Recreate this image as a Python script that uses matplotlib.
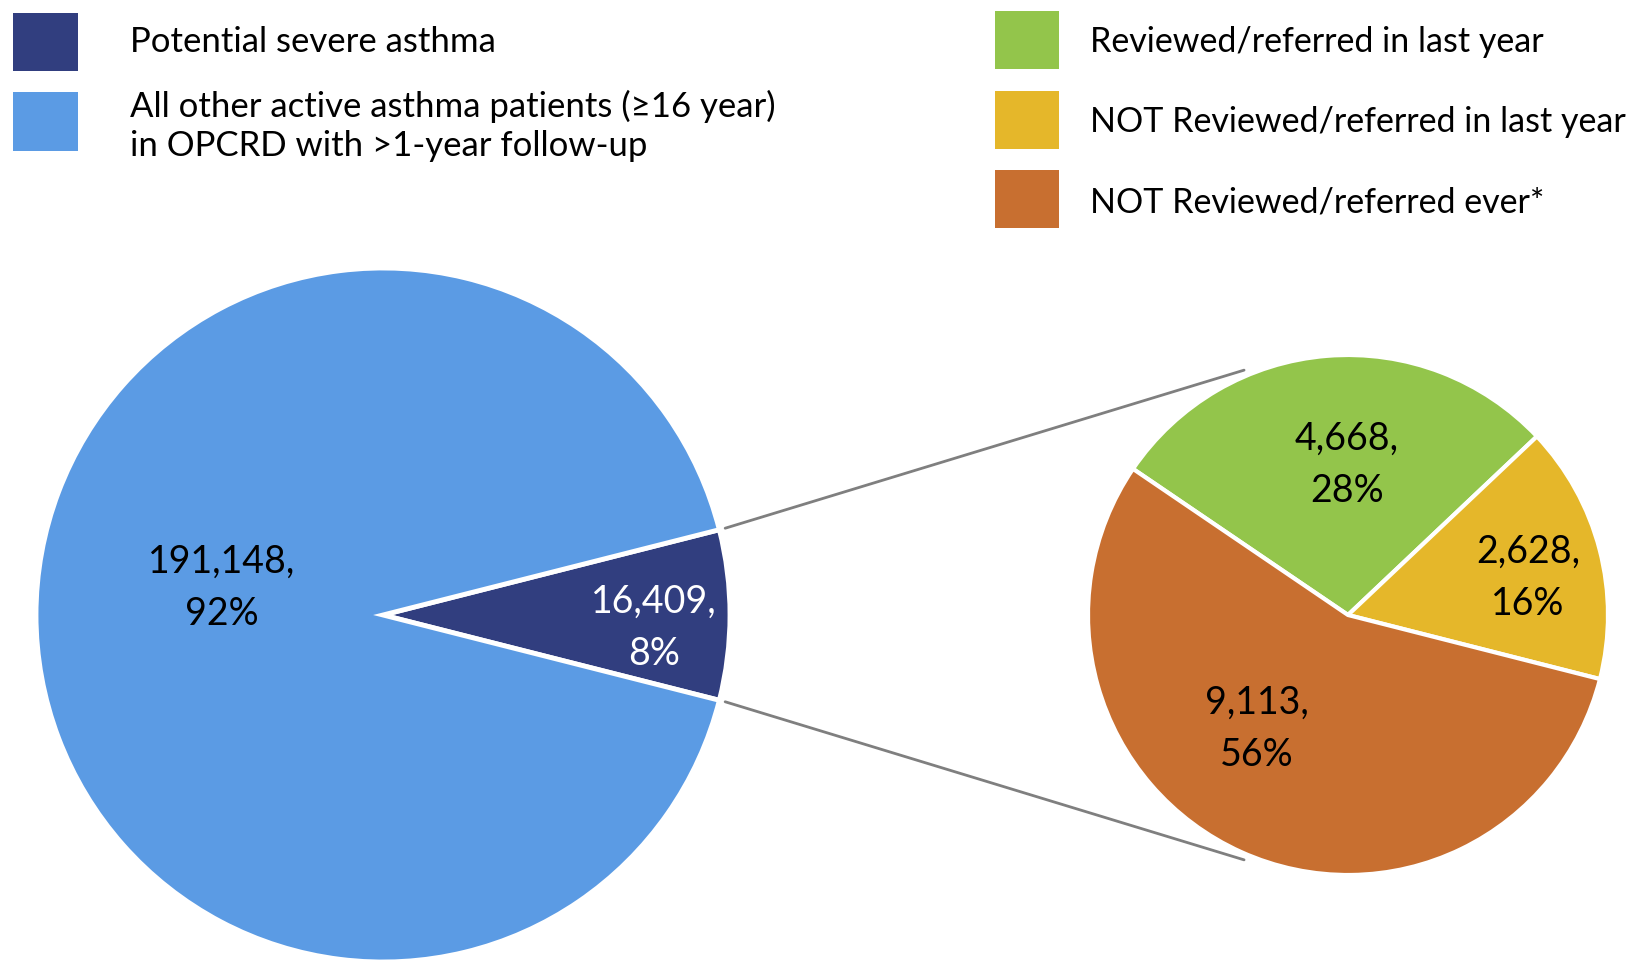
import numpy as np
import matplotlib
matplotlib.use('Agg')
import matplotlib.pyplot as plt
from matplotlib.patches import Rectangle

# data
main_labels = ['Potential severe asthma',
               'All other active asthma patients (\u226516 year)\nin OPCRD with >1-year follow-up']
main_values = [16409, 191148]
main_pcts = ['8%', '92%']
main_colors = ['#313E7F', '#5B9BE4']

sub_labels = ['Reviewed/referred in last year',
              'NOT Reviewed/referred in last year',
              'NOT Reviewed/referred ever*']
sub_values = [4668, 2628, 9113]
sub_pcts = ['28%', '16%', '56%']
sub_colors = ['#93C54B', '#E5B72A', '#C86F30']

W, H = 1633, 961
plt.rcParams['font.family'] = ['Lato', 'DejaVu Sans']

fig = plt.figure(figsize=(W / 100, H / 100), dpi=100, facecolor='white')
ax = fig.add_axes([0, 0, 1, 1])

def iy(y):
    # image (top-down) pixel y -> axes y
    return H - y

# big pie, dark slice centred on 0 degrees
big_c = (383, iy(615))
big_r = 347
dark_angle = 360.0 * main_values[0] / sum(main_values)
ax.pie(main_values, colors=main_colors, center=big_c, radius=big_r,
       startangle=-dark_angle / 2, counterclock=True, frame=True,
       wedgeprops=dict(edgecolor='white', linewidth=3.5))

# small pie
small_c = (1348, iy(615))
small_r = 260
ax.pie(sub_values, colors=sub_colors, center=small_c, radius=small_r,
       startangle=145.8, counterclock=False, frame=True,
       wedgeprops=dict(edgecolor='white', linewidth=3))

# connector lines from dark slice edges to the small pie
for sgn in (1, -1):
    a0 = np.deg2rad(sgn * dark_angle / 2)
    x0 = big_c[0] + (big_r + 6) * np.cos(a0)
    y0 = big_c[1] + (big_r + 6) * np.sin(a0)
    a1 = np.deg2rad(sgn * 113)
    x1 = small_c[0] + (small_r + 6) * np.cos(a1)
    y1 = small_c[1] + (small_r + 6) * np.sin(a1)
    ax.plot([x0, x1], [y0, y1], color='#7F7F7F', linewidth=2, solid_capstyle='round')

# slice labels
lab_fs = 27
lab_ls = 1.55
ax.text(222, iy(588), f'{main_values[1]:,},\n{main_pcts[1]}', ha='center', va='center',
        fontsize=lab_fs, color='black', linespacing=lab_ls)
ax.text(654, iy(628), f'{main_values[0]:,},\n{main_pcts[0]}', ha='center', va='center',
        fontsize=lab_fs, color='white', linespacing=lab_ls)
sub_pos = [(1347, 465), (1528, 578), (1257, 729)]
for (x, y), v, p in zip(sub_pos, sub_values, sub_pcts):
    ax.text(x, iy(y), f'{v:,},\n{p}', ha='center', va='center',
            fontsize=lab_fs, color='black', linespacing=lab_ls)

# legends
left_boxes = [(13, 13, 65, 58), (13, 92, 65, 59)]
for (x, y, w, h), c in zip(left_boxes, main_colors):
    ax.add_patch(Rectangle((x, iy(y + h)), w, h, facecolor=c, edgecolor='none'))
ax.text(130, iy(42), main_labels[0], ha='left', va='center', fontsize=25)
ax.text(130, iy(126), main_labels[1], ha='left', va='center', fontsize=25,
        linespacing=1.3)

right_boxes = [(995, 11, 64, 58), (995, 91, 64, 58), (995, 170, 64, 58)]
right_text_y = [42, 122, 202]
for (x, y, w, h), c, ty, lab in zip(right_boxes, sub_colors, right_text_y, sub_labels):
    ax.add_patch(Rectangle((x, iy(y + h)), w, h, facecolor=c, edgecolor='none'))
    ax.text(1090, iy(ty), lab, ha='left', va='center', fontsize=24.5)

ax.set_xlim(0, W)
ax.set_ylim(0, H)
ax.set_aspect('equal')
ax.axis('off')

fig.savefig('out.png', dpi=100, facecolor='white')
plt.close(fig)
